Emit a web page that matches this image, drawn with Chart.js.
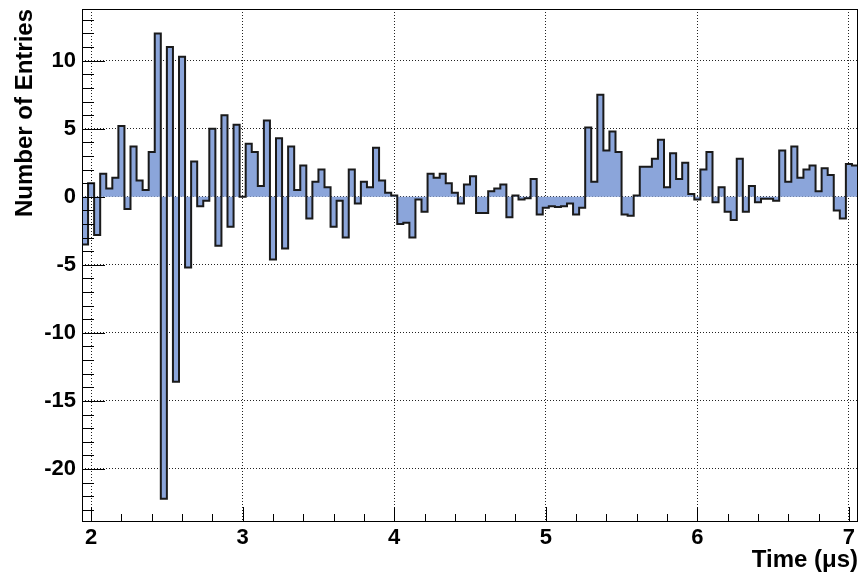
<!DOCTYPE html>
<html><head><meta charset="utf-8">
<script src="https://cdn.jsdelivr.net/npm/chart.js@4.4.1/dist/chart.umd.min.js"></script>
<style>html,body{margin:0;padding:0;background:#fff;} #wrap{width:861px;height:580px;}</style>
</head><body>
<div id="wrap"><canvas id="c" width="861" height="580"></canvas></div>
<script>
// Histogram definition: 128 bins of 0.04 us from 1.94 to 7.06
const xRange = [1.94, 7.06];
const binWidth = 0.04;
const entries = [
  -3.5, 1.0, -2.8, 1.7, 0.6, 1.4, 5.2, -0.9, 3.7, 1.2,
  0.5, 3.3, 12.0, -22.2, 11.0, -13.6, 10.3, -5.2, 2.6, -0.7,
  -0.3, 5.0, -3.6, 6.0, -2.2, 5.3, 0.0, 3.9, 3.3, 0.8,
  5.6, -4.6, 4.3, -3.8, 3.7, 0.5, 2.3, -1.6, 1.1, 2.0,
  0.7, -2.2, -0.3, -3.0, 2.0, -0.5, 1.1, 0.7, 3.6, 1.2,
  0.3, 0.1, -2.0, -1.9, -3.0, -0.2, -1.1, 1.7, 1.4, 1.7,
  1.0, 0.3, -0.5, 0.9, 1.5, -1.2, -1.2, 0.4, 0.6, 0.9,
  -1.5, 0.1, -0.2, -0.1, 1.3, -1.3, -0.8, -0.7, -0.75, -0.7,
  -0.5, -1.3, -0.8, 5.1, 1.1, 7.5, 3.4, 4.8, 3.3, -1.3,
  -1.4, 0.1, 2.2, 2.2, 2.8, 4.2, 0.7, 3.2, 1.3, 2.5,
  0.2, -0.2, 2.0, 3.3, -0.4, 0.7, -1.1, -1.7, 2.8, -1.1,
  0.8, -0.4, -0.15, -0.15, -0.3, 3.4, 1.1, 3.7, 1.4, 2.0,
  2.3, 0.4, 2.1, 1.6, -1.0, -1.6, 2.4, 2.3
];
const xTickLabels = [2, 3, 4, 5, 6, 7];
const yTickLabels = [-20, -15, -10, -5, 0, 5, 10];
const yRange = [-23.9, 13.8];
const xTitle = 'Time (\u03BCs)';
const yTitle = 'Number of Entries';

// each bin's value is held from its low edge to the next edge
const points = entries.map((v, i) => ({x: xRange[0] + i * binWidth, y: v}));
points.push({x: xRange[1], y: entries[entries.length - 1]});

const FONT = "'Liberation Sans', Arial, Helvetica, sans-serif";

const frameTicks = {
  id: 'frameTicks',
  afterDatasetsDraw(chart) {
    const {ctx, chartArea: a, scales: {x, y}} = chart;
    ctx.save();
    ctx.strokeStyle = '#000';
    ctx.lineWidth = 1;
    ctx.beginPath();
    for (let v = Math.ceil(y.min); v <= Math.floor(y.max); v++) {
      const py = Math.round(y.getPixelForValue(v)) + 0.5;
      const len = (v % 5 === 0) ? 23 : 12;
      ctx.moveTo(a.left, py); ctx.lineTo(a.left + len, py);
    }
    for (let k = Math.ceil(x.min * 5 - 1e-9); k <= Math.floor(x.max * 5 + 1e-9); k++) {
      const px = Math.round(x.getPixelForValue(k / 5)) + 0.5;
      const len = (k % 5 === 0) ? 15 : 8;
      ctx.moveTo(px, a.bottom); ctx.lineTo(px, a.bottom - len);
    }
    ctx.stroke();
    ctx.strokeRect(a.left + 0.5, a.top + 0.5, a.right - a.left - 1, a.bottom - a.top - 1);
    ctx.restore();
  }
};

new Chart(document.getElementById('c'), {
  type: 'line',
  data: {
    datasets: [{
      data: points,
      stepped: 'before',
      borderColor: '#1a1a1a',
      borderWidth: 2,
      backgroundColor: 'rgb(139,165,218)',
      fill: 'origin',
      pointRadius: 0,
      tension: 0
    }]
  },
  options: {
    responsive: false,
    animation: false,
    devicePixelRatio: 1,
    layout: {padding: {left: 0, top: 9, right: 3, bottom: 0}},
    plugins: {legend: {display: false}, tooltip: {enabled: false}},
    scales: {
      x: {
        type: 'linear',
        min: xRange[0], max: xRange[1],
        afterBuildTicks: s => { s.ticks = xTickLabels.map(v => ({value: v})); },
        afterFit: s => { s.height = 58; s.paddingLeft = 0; s.paddingRight = 0; },
        grid: {color: '#222', lineWidth: 1, drawTicks: false},
        border: {display: false, dash: [1, 2]},
        ticks: {padding: 3, color: '#000', maxRotation: 0, autoSkip: false,
                font: {family: FONT, size: 22, weight: 'bold'}},
        title: {display: true, text: xTitle, align: 'end', color: '#000',
                font: {family: FONT, size: 24, weight: 'bold'}, padding: {top: 0, bottom: 5}}
      },
      y: {
        type: 'linear',
        min: yRange[0], max: yRange[1],
        afterBuildTicks: s => { s.ticks = yTickLabels.map(v => ({value: v})); },
        afterFit: s => { s.width = 82; s.paddingTop = 0; s.paddingBottom = 0; },
        grid: {color: '#222', lineWidth: 1, drawTicks: false},
        border: {display: false, dash: [1, 2]},
        ticks: {padding: 6, color: '#000', autoSkip: false,
                font: {family: FONT, size: 22, weight: 'bold'}},
        title: {display: true, text: yTitle, align: 'end', color: '#000',
                font: {family: FONT, size: 24, weight: 'bold'}, padding: {top: 11, bottom: 0}}
      }
    }
  },
  plugins: [frameTicks]
});
</script>
</body></html>
